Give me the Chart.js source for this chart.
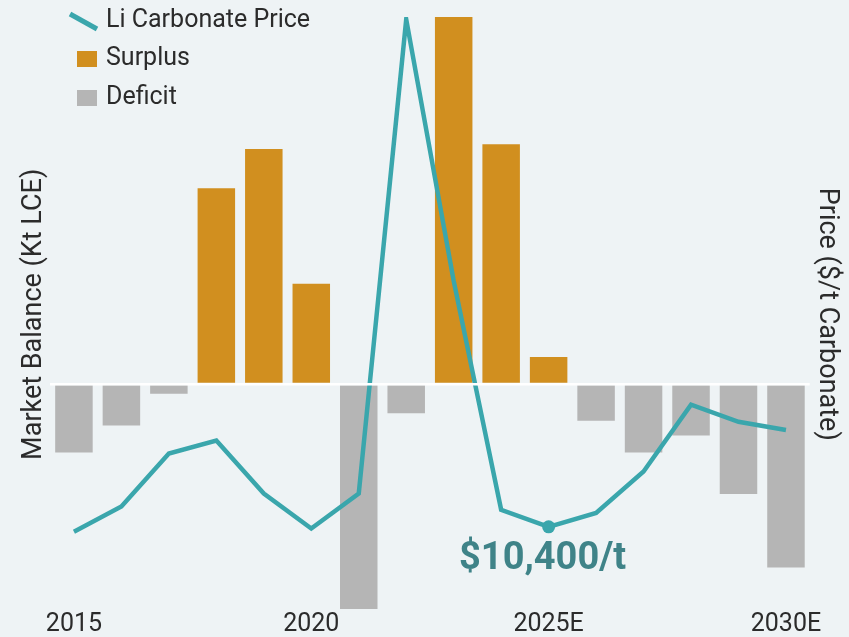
<!DOCTYPE html>
<html>
<head>
<meta charset="utf-8">
<script src="https://cdn.jsdelivr.net/npm/chart.js@4.4.1/dist/chart.umd.min.js"></script>
<style>
  html, body { margin: 0; padding: 0; background: #eef3f5; }
  #wrap { width: 849px; height: 637px; position: relative; }
</style>
</head>
<body>
<div id="wrap"><canvas id="balanceChart"></canvas></div>
<script>
const years   = ['2015', '2016', '2017', '2018', '2019', '2020', '2021', '2022', '2023', '2024',
                 '2025E', '2026', '2027', '2028', '2029', '2030E'];
// market balance, kt LCE (positive = surplus, negative = deficit)
const balance = [-28, -17, -4, 80, 96, 41, -92, -12, 150, 98, 11, -15, -28, -21, -45, -75];
// lithium carbonate price, $/t
const price   = [9800, 12900, 19400, 21000, 14500, 10200, 14500, 72700, 40600, 12500,
                 10400, 12100, 17200, 25400, 23300, 22300];
const callout = 10; // index of the labelled price point (2025E)

const teal   = '#3aa6ac';
const orange = '#d18f1f';
const grey   = '#b5b5b5';
const ink    = '#2b2b2b';

const surplus = balance.map(v => v > 0 ? v : null);
const deficit = balance.map(v => v < 0 ? v : null);

const ctx = document.getElementById('balanceChart');

// legend drawn inside the plot area, top-left
const cornerLegend = {
    id: 'cornerLegend',
    afterDraw(chart) {
        const c = chart.ctx;
        const ds = chart.data.datasets;
        c.save();
        c.font = '25px Roboto';
        c.fillStyle = ink;
        c.textBaseline = 'middle';
        c.textAlign = 'left';

        c.strokeStyle = ds[0].borderColor;
        c.lineWidth = 5;
        c.beginPath();
        c.moveTo(70, 14);
        c.lineTo(97, 29);
        c.stroke();
        c.fillText(ds[0].label, 106, 21);

        c.fillStyle = ds[1].backgroundColor;
        c.fillRect(77, 51, 20, 16);
        c.fillStyle = ink;
        c.fillText(ds[1].label, 106, 59);

        c.fillStyle = ds[2].backgroundColor;
        c.fillRect(77, 90, 20, 16);
        c.fillStyle = ink;
        c.fillText(ds[2].label, 106, 98);
        c.restore();
    }
};

// price callout under the 2025E point
const priceCallout = {
    id: 'priceCallout',
    afterDatasetsDraw(chart) {
        const c = chart.ctx;
        const x = chart.scales.x.getPixelForValue(callout);
        const y = chart.scales.y2.getPixelForValue(price[callout]);
        c.save();
        c.font = 'bold 38px Roboto';
        c.fillStyle = '#3f8388';
        c.textAlign = 'center';
        c.textBaseline = 'middle';
        c.fillText('$' + price[callout].toLocaleString('en-US') + '/t', x - 6, y + 33);
        c.restore();
    }
};

new Chart(ctx, {
    data: {
        labels: years,
        datasets: [
            {
                type: 'line',
                label: 'Li Carbonate Price',
                data: price,
                yAxisID: 'y2',
                borderColor: teal,
                backgroundColor: teal,
                borderWidth: 4.5,
                tension: 0,
                pointRadius: price.map((p, i) => i === callout ? 6.5 : 0),
                pointBorderWidth: 0,
                order: 0,
            },
            {
                type: 'bar',
                label: 'Surplus',
                data: surplus,
                yAxisID: 'y',
                backgroundColor: orange,
                grouped: false,
                order: 1,
            },
            {
                type: 'bar',
                label: 'Deficit',
                data: deficit,
                yAxisID: 'y',
                backgroundColor: grey,
                grouped: false,
                order: 2,
            },
        ]
    },
    plugins: [cornerLegend, priceCallout],
    options: {
        responsive: true,
        maintainAspectRatio: false,
        animation: false,
        layout: { padding: { top: 17, left: 15.8, right: 4.3, bottom: -1.3 } },
        datasets: { bar: { barPercentage: 0.79, categoryPercentage: 1 } },
        plugins: {
            legend: { display: false },
            tooltip: { enabled: false },
        },
        scales: {
            x: {
                grid: { display: false, drawTicks: false },
                border: { display: false },
                ticks: {
                    autoSkip: false,
                    maxRotation: 0,
                    padding: 4,
                    color: ink,
                    font: { family: 'Roboto', size: 25, lineHeight: 0.75 },
                    callback: (val, i) => i % 5 === 0 ? years[i] : '',
                },
            },
            y: {
                position: 'left',
                min: -93,
                max: 150,
                grid: {
                    z: 1,
                    drawTicks: false,
                    lineWidth: 2.5,
                    color: c => c.tick && c.tick.value === 0 ? '#ffffff' : 'rgba(0,0,0,0)',
                },
                border: { display: false },
                ticks: { display: false, stepSize: 50 },
                title: {
                    display: true,
                    text: 'Market Balance (Kt LCE)',
                    color: ink,
                    font: { family: 'Roboto', size: 27 },
                    padding: { top: 2, bottom: 0 },
                },
            },
            y2: {
                position: 'right',
                min: 0,
                max: 73000,
                grid: { display: false, drawTicks: false },
                border: { display: false },
                ticks: { display: false },
                title: {
                    display: true,
                    text: 'Price ($/t Carbonate)',
                    color: ink,
                    font: { family: 'Roboto', size: 27 },
                    padding: { top: 2, bottom: 0.6 },
                },
            },
        },
    }
});
</script>
</body>
</html>
